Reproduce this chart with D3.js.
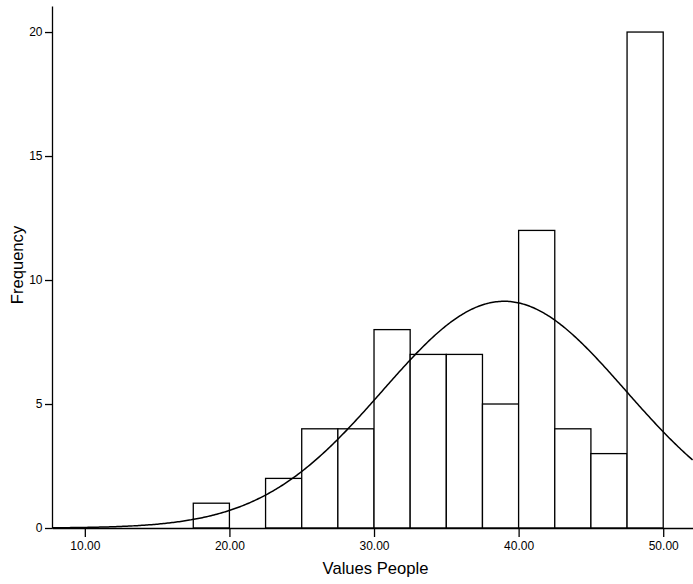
<!DOCTYPE html>
<html>
<head>
<meta charset="utf-8">
<script src="https://cdn.jsdelivr.net/npm/d3@7"></script>
<style>
  html, body { margin: 0; padding: 0; background: #fff; }
  svg { display: block; font-family: Arial, "Liberation Sans", sans-serif; }
</style>
</head>
<body>
<svg id="chart" width="693" height="584"></svg>
<script>
// Histogram bins (lower edge) and frequencies
const binStarts = [17.5, 20.0, 22.5, 25.0, 27.5, 30.0, 32.5, 35.0, 37.5, 40.0, 42.5, 45.0, 47.5];
const binWidth = 2.5;
const counts = [1, 0, 2, 4, 4, 8, 7, 7, 5, 12, 4, 3, 20];

// Axis ticks
const xTicks = [10, 20, 30, 40, 50];
const yTicks = [0, 5, 10, 15, 20];

// Fitted normal curve parameters
const fitMean = 39.0;
const fitSd = 8.4;
const nTotal = d3.sum(counts);

const svg = d3.select("#chart");
const plotLeft = 52, plotRight = 693, plotTop = 6, plotBottom = 528;

const x = d3.scaleLinear().domain([7.73, 52.06]).range([plotLeft, plotRight]);
const y = d3.scaleLinear().domain([0, 21.05]).range([plotBottom, plotTop]);

// Bars
svg.append("g").selectAll("rect")
  .data(binStarts.map((s, i) => ({ s, c: counts[i] })).filter(d => d.c > 0))
  .join("rect")
  .attr("x", d => x(d.s))
  .attr("y", d => y(d.c))
  .attr("width", d => x(d.s + binWidth) - x(d.s))
  .attr("height", d => y(0) - y(d.c))
  .attr("fill", "#fff")
  .attr("stroke", "#000")
  .attr("stroke-width", 1.3);

// Normal curve scaled to counts
const dens = v => nTotal * binWidth / (fitSd * Math.sqrt(2 * Math.PI)) *
  Math.exp(-0.5 * Math.pow((v - fitMean) / fitSd, 2));
const xs = d3.range(x.domain()[0], x.domain()[1] + 0.001, 0.1);
svg.append("path")
  .datum(xs)
  .attr("fill", "none")
  .attr("stroke", "#000")
  .attr("stroke-width", 1.5)
  .attr("d", d3.line().x(v => x(v)).y(v => y(dens(v))));

// Axes
const xAxis = svg.append("g")
  .attr("transform", `translate(0,${plotBottom})`)
  .call(d3.axisBottom(x).tickValues(xTicks).tickFormat(d3.format(".2f")).tickSize(9).tickSizeOuter(0));
const yAxis = svg.append("g")
  .attr("transform", `translate(${plotLeft},0)`)
  .call(d3.axisLeft(y).tickValues(yTicks).tickFormat(d3.format("d")).tickSize(7).tickSizeOuter(0));

[xAxis, yAxis].forEach(g => {
  g.select(".domain").attr("stroke", "#000").attr("stroke-width", 1.3);
  g.selectAll(".tick line").attr("stroke", "#000").attr("stroke-width", 1.3);
  g.selectAll(".tick text").attr("fill", "#000").attr("font-size", 12)
    .attr("font-family", "Arial, 'Liberation Sans', sans-serif");
});
xAxis.selectAll(".tick text").attr("dy", null).attr("y", 22);
yAxis.selectAll(".tick text").attr("x", -9.5);

// Axis titles
svg.append("text")
  .attr("x", 375.5)
  .attr("y", 574)
  .attr("text-anchor", "middle")
  .attr("font-size", 16.6)
  .attr("fill", "#000")
  .text("Values People");

svg.append("text")
  .attr("transform", "translate(23,265) rotate(-90)")
  .attr("text-anchor", "middle")
  .attr("font-size", 16.6)
  .attr("fill", "#000")
  .text("Frequency");
</script>
</body>
</html>
